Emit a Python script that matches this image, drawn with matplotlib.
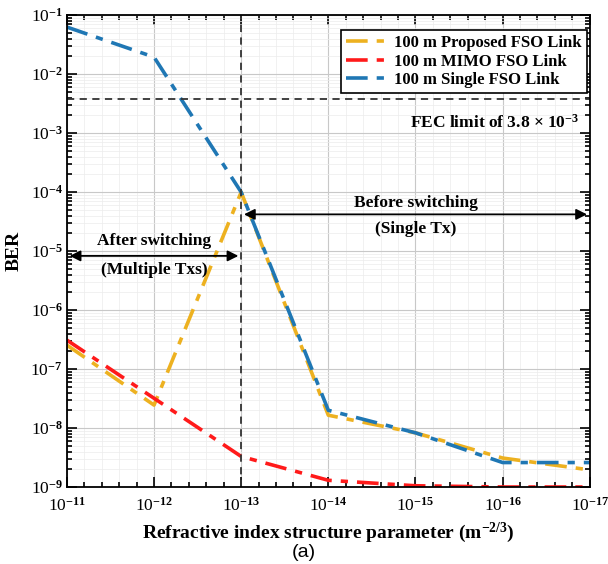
import numpy as np
import matplotlib.pyplot as plt
from matplotlib.ticker import LogLocator, FixedLocator, NullFormatter

plt.rcParams["font.family"] = "Liberation Serif"
plt.rcParams["mathtext.fontset"] = "custom"
plt.rcParams["mathtext.rm"] = "Liberation Serif:bold"
plt.rcParams["mathtext.it"] = "Liberation Serif:bold"
plt.rcParams["mathtext.bf"] = "Liberation Serif:bold"

# ── Data ─────────────────────────────────────────────
cn2 = [1e-11, 1e-12, 1e-13, 1e-14, 1e-15, 1e-16, 1e-17]
ber_proposed = [2.55e-7, 2.45e-8, 1.0e-4, 1.65e-8, 8.3e-9, 3.1e-9, 1.95e-9]
ber_mimo = [3.1e-7, 3.2e-8, 3.3e-9, 1.3e-9, 1.05e-9, 1.0e-9, 1.0e-9]
ber_single = [6.3e-2, 1.95e-2, 1.0e-4, 2.0e-8, 8.3e-9, 2.6e-9, 2.6e-9]
labels = ["100 m Proposed FSO Link", "100 m MIMO FSO Link", "100 m Single FSO Link"]
colors = ["#EDB120", "#FF1A1A", "#1F77B4"]
x_exps = [11, 12, 13, 14, 15, 16, 17]
y_exps = [1, 2, 3, 4, 5, 6, 7, 8, 9]
fec_limit = 3.8e-3
switch_point = 1e-13

fig = plt.figure(figsize=(6.08, 5.64), dpi=100)
ax = fig.add_axes([0.110, 0.1365, 0.860, 0.8365])

dash = (0, (6, 2.5, 2, 2.5))
for ys, c, lab in zip([ber_proposed, ber_mimo, ber_single], colors, labels):
    ax.plot(cn2, ys, color=c, lw=2.6, linestyle=dash, label=lab)

ax.set_xscale("log")
ax.set_yscale("log")
ax.set_xlim(1e-11, 1e-17)
ax.set_ylim(1e-9, 1e-1)

ax.xaxis.set_major_locator(FixedLocator([10.0 ** -k for k in x_exps]))
ax.yaxis.set_major_locator(FixedLocator([10.0 ** -k for k in y_exps]))
x_minor = [10.0 ** -(k + f / 5) for k in x_exps[:-1] for f in range(1, 5)]
ax.xaxis.set_minor_locator(FixedLocator(x_minor))
ax.yaxis.set_minor_locator(LogLocator(base=10, subs=np.arange(2, 10)))
ax.yaxis.set_minor_formatter(NullFormatter())
ax.xaxis.set_minor_formatter(NullFormatter())
ax.set_xticklabels([r"10$^{-%d}$" % k for k in x_exps])
ax.set_yticklabels([r"10$^{-%d}$" % k for k in y_exps])

ax.grid(True, which="major", color="#c8c8c8", lw=0.8)
ax.grid(True, which="minor", color="#ececec", lw=0.5)
ax.tick_params(which="both", direction="in", top=True, right=True,
               labelsize=12.5, width=1.2)
ax.tick_params(which="major", length=7)
ax.tick_params(which="minor", length=3.5)
ax.tick_params(axis="x", pad=7)
ax.tick_params(axis="y", pad=3)
for sp in ax.spines.values():
    sp.set_linewidth(1.3)

# FEC limit and switching point
ax.axhline(fec_limit, color="#333333", lw=1.3, ls=(0, (4, 3)))
ax.axvline(switch_point, color="#333333", lw=1.3, ls=(0, (4, 3)))
ax.text(10 ** -16.88, 1.5e-3, r"FEC limit of 3.8 $\times$ 10$^{-3}$",
        ha="right", va="center", fontsize=12.5, fontweight="bold")

# switching annotations
arrow = dict(arrowstyle="<|-|>", color="black", lw=1.3, mutation_scale=16)
ax.annotate("", xy=(1e-17, 4.2e-5), xytext=(1e-13, 4.2e-5), arrowprops=arrow)
ax.text(10 ** -15.0, 6.6e-5, "Before switching", ha="center", va="center",
        fontsize=12.5, fontweight="bold")
ax.text(10 ** -15.0, 2.35e-5, "(Single Tx)", ha="center", va="center",
        fontsize=12.5, fontweight="bold")
ax.annotate("", xy=(1e-11, 8.3e-6), xytext=(1e-13, 8.3e-6), arrowprops=arrow)
ax.text(10 ** -12.0, 1.5e-5, "After switching", ha="center", va="center",
        fontsize=12.5, fontweight="bold")
ax.text(10 ** -12.0, 4.8e-6, "(Multiple Txs)", ha="center", va="center",
        fontsize=12.5, fontweight="bold")

leg = ax.legend(loc="upper right", prop={"weight": "bold", "size": 12},
                frameon=True, fancybox=False, edgecolor="black", framealpha=1,
                handlelength=2.4, handletextpad=0.5, borderpad=0.3,
                labelspacing=0.15, borderaxespad=0,
                bbox_to_anchor=(0.994, 0.968))
leg.get_frame().set_linewidth(1.2)

ax.set_ylabel("BER", fontsize=14, fontweight="bold")
ax.yaxis.set_label_coords(-0.085, 0.5)
ax.set_xlabel(r"Refractive index structure parameter (m$^{-2/3}$)",
              fontsize=14, fontweight="bold")
ax.xaxis.set_label_coords(0.5, -0.072)
fig.text(0.5, 0.02, "(a)", ha="center", va="center", fontsize=14,
         family="Liberation Sans")

fig.savefig("out.png", dpi=100)
